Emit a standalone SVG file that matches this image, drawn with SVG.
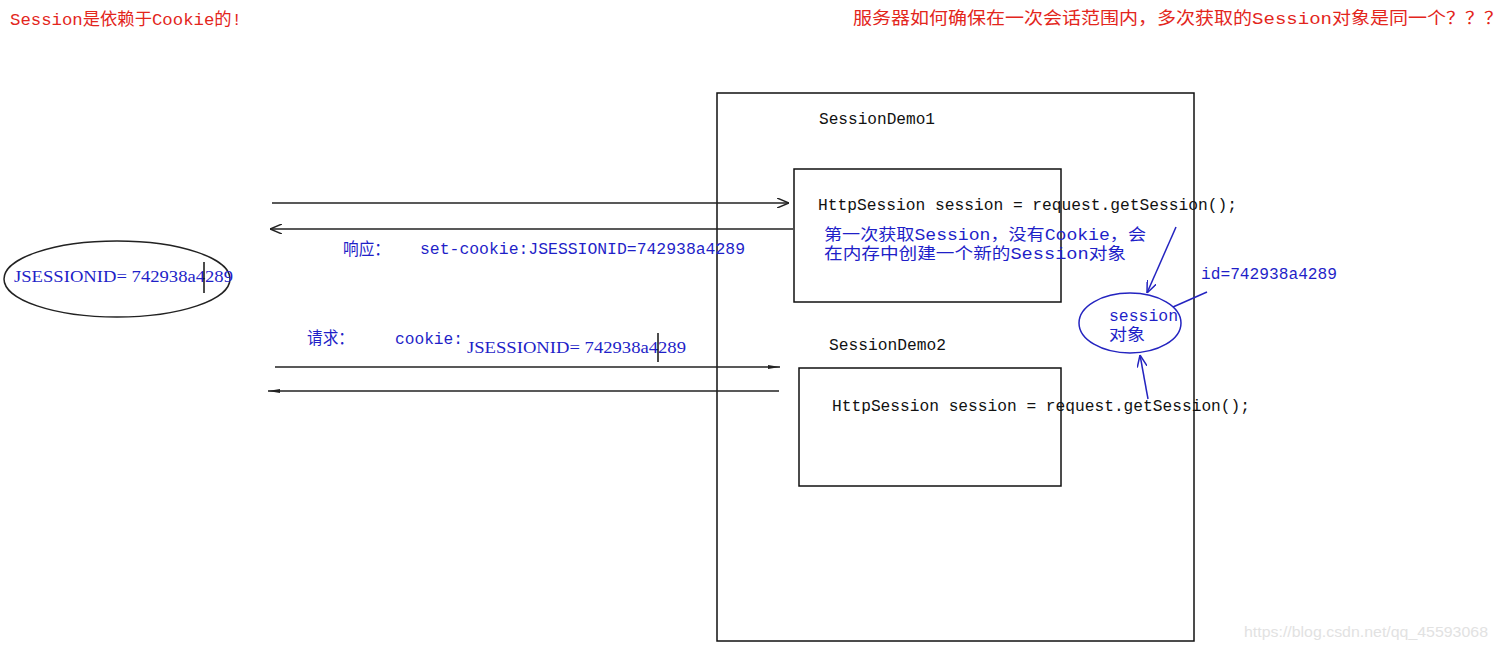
<svg xmlns="http://www.w3.org/2000/svg" width="1497" height="650" viewBox="0 0 1497 650">
<style>
.red{fill:#e3261c;font-family:"Liberation Mono","Noto Sans CJK SC",monospace;font-size:17px}
.mono{fill:#111;font-family:"Liberation Mono","Noto Sans CJK SC",monospace;font-size:16px}
.blue{fill:#1f1fc8;font-family:"Liberation Mono","Noto Sans CJK SC",monospace;font-size:16px}
.bserif{fill:#1f1fc8;font-family:"Liberation Serif","Noto Sans CJK SC",serif;font-size:17px}
.cjk{fill:#1f1fc8;font-family:"Noto Sans CJK SC",sans-serif;font-size:17px}
.box{fill:none;stroke:#111;stroke-width:1.5}
.ln{fill:none;stroke:#222;stroke-width:1.6}
.bl{fill:none;stroke:#2424c0;stroke-width:1.5}
.wm{fill:#e2e2e2;font-family:"Liberation Sans",sans-serif;font-size:14px}
</style>
<defs>
<marker id="openR" viewBox="0 0 12 10" refX="12" refY="5" markerWidth="12" markerHeight="10" markerUnits="userSpaceOnUse" orient="auto">
<path d="M0,0 L12,5 L0,10" fill="none" stroke="#222" stroke-width="1.5"/>
</marker>
<marker id="solidR" viewBox="0 0 12 8" refX="12" refY="4" markerWidth="12" markerHeight="8" markerUnits="userSpaceOnUse" orient="auto">
<path d="M0,2 L12,4 L0,6 Z" fill="#222"/>
</marker>
<marker id="blueA" viewBox="0 0 12 10" refX="12" refY="5" markerWidth="12" markerHeight="10" markerUnits="userSpaceOnUse" orient="auto">
<path d="M0,0 L12,5 L0,10" fill="none" stroke="#2424c0" stroke-width="1.5"/>
</marker>
</defs>
<rect width="1497" height="650" fill="#fff"/>

<g id="title-left"><text class="red" x="10" y="25" textLength="232" lengthAdjust="spacingAndGlyphs">Session是依赖于Cookie的!</text></g>
<g id="title-right"><text class="red" x="853" y="24" textLength="650" lengthAdjust="spacingAndGlyphs">服务器如何确保在一次会话范围内，多次获取的Session对象是同一个？？？</text></g>

<g id="server">
<rect class="box" x="717" y="93" width="477" height="548"/>
<text class="mono" x="819" y="124" textLength="116" lengthAdjust="spacingAndGlyphs">SessionDemo1</text>
<text class="mono" x="829" y="350" textLength="117" lengthAdjust="spacingAndGlyphs">SessionDemo2</text>
</g>

<g id="demo1">
<rect class="box" x="794" y="169" width="267" height="133"/>
<text class="mono" x="818" y="210" textLength="419" lengthAdjust="spacingAndGlyphs">HttpSession session = request.getSession();</text>
<text class="blue" x="824" y="240" textLength="322" lengthAdjust="spacingAndGlyphs">第一次获取Session，没有Cookie，会</text>
<text class="blue" x="824" y="259" textLength="302" lengthAdjust="spacingAndGlyphs">在内存中创建一个新的Session对象</text>
</g>

<g id="demo2">
<rect class="box" x="799" y="368" width="262" height="118"/>
<text class="mono" x="832" y="411" textLength="418" lengthAdjust="spacingAndGlyphs">HttpSession session = request.getSession();</text>
</g>

<g id="session-object">
<ellipse class="bl" cx="1130" cy="323" rx="51" ry="30"/>
<text class="blue" x="1109" y="321" textLength="69" lengthAdjust="spacingAndGlyphs">session</text>
<text class="blue" x="1109" y="340" textLength="36" lengthAdjust="spacingAndGlyphs">对象</text>
</g>

<g id="session-id">
<text class="blue" x="1201" y="279" textLength="136" lengthAdjust="spacingAndGlyphs">id=742938a4289</text>
</g>

<g id="browser-cookie">
<ellipse fill="none" stroke="#222" stroke-width="1.5" cx="117" cy="279" rx="113" ry="38"/>
<text class="bserif" x="14" y="282" textLength="219" lengthAdjust="spacingAndGlyphs">JSESSIONID= 742938a4289</text>
<line x1="204" y1="262" x2="204" y2="293" stroke="#111" stroke-width="1.5"/>
</g>

<g id="response-label">
<text class="cjk" x="343" y="255" textLength="47" lengthAdjust="spacingAndGlyphs">响应：</text>
<text class="blue" x="420" y="254" textLength="325" lengthAdjust="spacingAndGlyphs">set-cookie:JSESSIONID=742938a4289</text>
</g>

<g id="request-label">
<text class="cjk" x="307" y="344" textLength="47" lengthAdjust="spacingAndGlyphs">请求：</text>
<text class="blue" x="395" y="344" textLength="68" lengthAdjust="spacingAndGlyphs">cookie:</text>
<text class="bserif" x="467" y="353" textLength="219" lengthAdjust="spacingAndGlyphs">JSESSIONID= 742938a4289</text>
<line x1="658" y1="333" x2="658" y2="362" stroke="#111" stroke-width="1.5"/>
</g>

<g id="connectors">
<line class="ln" x1="272" y1="203" x2="789" y2="203" marker-end="url(#openR)"/>
<line class="ln" x1="793" y1="229" x2="270" y2="229" marker-end="url(#openR)"/>
<line class="ln" x1="275" y1="367" x2="780" y2="367" marker-end="url(#solidR)"/>
<line class="ln" x1="779" y1="391" x2="268" y2="391" marker-end="url(#solidR)"/>
<line class="bl" x1="1176" y1="227" x2="1147" y2="293" marker-end="url(#blueA)"/>
<line class="bl" x1="1207" y1="292" x2="1173" y2="307"/>
<line class="bl" x1="1148" y1="399" x2="1140" y2="355" marker-end="url(#blueA)"/>
</g>

<g id="watermark"><text class="wm" x="1244" y="637" textLength="244" lengthAdjust="spacingAndGlyphs">https://blog.csdn.net/qq_45593068</text></g>
</svg>
